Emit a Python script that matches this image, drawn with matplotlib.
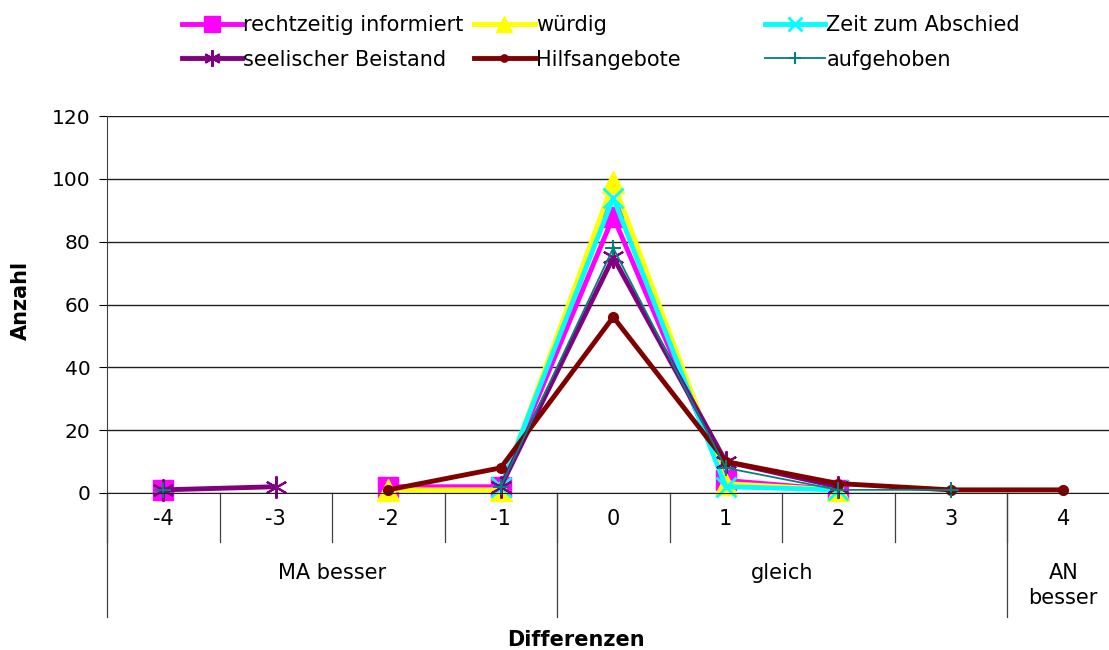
import numpy as np
import matplotlib.pyplot as plt
from matplotlib.transforms import blended_transform_factory

nan = np.nan

# Kategorien (Differenzen)
diffs = ["-4", "-3", "-2", "-1", "0", "1", "2", "3", "4"]
groups = ["MA besser", "gleich", "AN\nbesser"]
group_spans = [(0, 3), (4, 7), (8, 8)]

# Werte je Reihe (fehlende Werte = nan)
rechtzeitig = [1, nan, 2, 2, 88, 4, 1, nan, nan]
wuerdig = [nan, nan, 1, 1, 99, 3, 1, nan, nan]
zeit_abschied = [nan, nan, nan, 2, 94, 2, 1, nan, nan]
seelisch = [1, 2, nan, 2, 75, 10, 2, nan, nan]
hilfsangebote = [nan, nan, 1, 8, 56, 10, 3, 1, 1]
aufgehoben = [1, nan, nan, 2, 78, 8, 1, 1, nan]

plt.rcParams['font.family'] = ['DejaVu Sans']

fig = plt.figure(figsize=(11.09, 6.5), dpi=100)
W, H = 1109, 650
x0, x1 = 107, 1119.5
ytop, ybot = 116, 493
ax = fig.add_axes([x0 / W, 1 - ybot / H, (x1 - x0) / W, (ybot - ytop) / H])

x = np.arange(len(diffs))
series = [
    (rechtzeitig, "rechtzeitig informiert", "#FF00FF", "s", 15, 3.5, 1),
    (wuerdig, "würdig", "#FFFF00", "^", 16, 3.5, 1),
    (zeit_abschied, "Zeit zum Abschied", "#00FFFF", "x", 14, 3.5, 2),
    (seelisch, "seelischer Beistand", "#800080", (6, 2, 0), 16, 3.5, 1.5),
    (hilfsangebote, "Hilfsangebote", "#800000", "o", 7, 3.5, 1),
    (aufgehoben, "aufgehoben", "#008080", "+", 11, 1.3, 1.5),
]
handles = []
for vals, lab, col, mk, ms, lw, mew in series:
    h, = ax.plot(x, vals, color=col, lw=lw, marker=mk, ms=ms, mew=mew,
                 mfc=col, mec=col, label=lab, clip_on=False)
    handles.append(h)

ax.set_xlim(-0.5, len(diffs) - 0.5)
ax.set_ylim(0, 120)
ax.set_yticks(np.arange(0, 121, 20))
ax.tick_params(axis='y', labelsize=14.5, length=6, direction='out', pad=6)
ax.set_xticks([])
ax.yaxis.grid(True, color='#202020', lw=1)
ax.set_axisbelow(True)
for s in ['top', 'right']:
    ax.spines[s].set_visible(False)
ax.spines['left'].set_color('#404040')
ax.spines['bottom'].set_color('#202020')

# Kategorienachse mit Gruppen
tr = blended_transform_factory(ax.transData, ax.transAxes)
ph = ybot - ytop
tick_bot = -(542 - ybot) / ph
grp_bot = -(617 - ybot) / ph
for k in range(len(diffs) + 1):
    ax.plot([k - 0.5, k - 0.5], [0, tick_bot], color='#404040', lw=0.9,
            transform=tr, clip_on=False)
for a, b in group_spans:
    ax.plot([a - 0.5, a - 0.5], [0, grp_bot], color='#404040', lw=0.9,
            transform=tr, clip_on=False)
for k, d in enumerate(diffs):
    ax.text(k, -(519 - ybot) / ph, d, transform=tr, ha='center', va='center',
            fontsize=15)
for (a, b), g in zip(group_spans, groups):
    ax.text((a + b) / 2, -(563 - ybot) / ph, g, transform=tr, ha='center',
            va='top', fontsize=15, linespacing=1.3)

fig.text(576 / W, 1 - 640 / H, "Differenzen", ha='center', va='center',
         fontsize=15, fontweight='bold')
fig.text(21 / W, 1 - 300 / H, "Anzahl", ha='center', va='center',
         fontsize=15, fontweight='bold', rotation=90)

# Legende
leg_kw = dict(frameon=False, fontsize=15, handlelength=2.9, handletextpad=0.05,
              borderpad=0, borderaxespad=0, labelspacing=0.7, columnspacing=0.5)
order1 = [handles[0], handles[3], handles[1], handles[4]]
leg1 = fig.legend(order1, [h.get_label() for h in order1],
                  ncol=2, loc='upper left', bbox_to_anchor=(182 / W, 1 - 15 / H),
                  markerscale=0.75, **leg_kw)
order2 = [handles[2], handles[5]]
leg2 = fig.legend(order2, [h.get_label() for h in order2],
                  ncol=1, loc='upper left', bbox_to_anchor=(765 / W, 1 - 15 / H),
                  markerscale=0.75, **leg_kw)

fig.savefig("out.png", dpi=100)
